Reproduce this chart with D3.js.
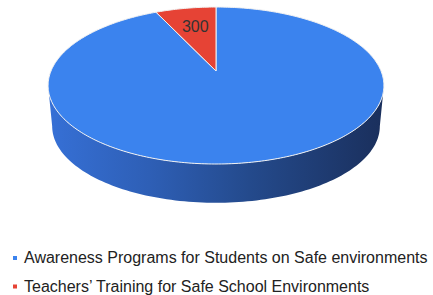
<!DOCTYPE html>
<html>
<head>
<meta charset="utf-8">
<script src="https://cdn.jsdelivr.net/npm/d3@7"></script>
<style>
  body { margin: 0; background: #fff; }
  svg { display: block; font-family: Arial, "Liberation Sans", sans-serif; }
</style>
</head>
<body>
<div id="chart"></div>
<script>
// data
const categories = ["Awareness Programs for Students on Safe environments", "Teachers\u2019 Training for Safe School Environments"];
const values = [4000, 300];
const colors = ["#3b83ee", "#e64335"];
const shownLabels = [null, "300"]; // google hides the big slice label here

const W = 433, H = 295;
const svg = d3.select("#chart").append("svg")
  .attr("width", W).attr("height", H);

// simple perspective projection of a flat disk
const cx = 216, k = 0.185;
const topFace = {cy: 71, s: 165, t: 75.8};
const botFace = {cy: 112, s: 161, t: 74};
function proj(face, a, r) {
  // a: angle clockwise from the far side, r: 0..1 of radius
  const u = r * Math.sin(a), v = r * Math.cos(a);
  const w = 1 + k * v;
  return [cx + face.s * u / w, face.cy - face.t * v / w];
}
function arcPts(face, a0, a1, n) {
  const pts = [];
  for (let i = 0; i <= n; i++) pts.push(proj(face, a0 + (a1 - a0) * i / n, 1));
  return pts;
}

const defs = svg.append("defs");
const grad = defs.append("linearGradient").attr("id", "side")
  .attr("x1", "0%").attr("x2", "100%").attr("y1", "0%").attr("y2", "0%");
[[0, "#3670d6"], [0.3, "#2e5fb6"], [0.6, "#244a8c"], [1, "#1a2f5c"]].forEach(d => {
  grad.append("stop").attr("offset", d[0]).attr("stop-color", d[1]);
});

const line = d3.line();

// side wall (near half)
const aL = Math.acos(-k), aR = 2 * Math.PI - aL;
const sideTop = arcPts(topFace, aL, aR, 120);
const sideBot = arcPts(botFace, aR, aL, 120);
svg.append("path")
  .attr("d", line(sideTop.concat(sideBot)) + "Z")
  .attr("fill", "url(#side)");

// top face slices
const pie = d3.pie().sort(null).value(d => d)(values);
const slices = svg.append("g");
pie.forEach((p, i) => {
  const n = Math.max(4, Math.ceil((p.endAngle - p.startAngle) * 60));
  const pts = [proj(topFace, 0, 0)].concat(arcPts(topFace, p.startAngle, p.endAngle, n));
  slices.append("path")
    .attr("d", line(pts) + "Z")
    .attr("fill", colors[i])
    .attr("stroke", "#f2f2f2")
    .attr("stroke-width", 1)
    .attr("stroke-linejoin", "round");
});

// slice labels
pie.forEach((p, i) => {
  if (!shownLabels[i]) return;
  const pt = proj(topFace, (p.startAngle + p.endAngle) / 2, 0.68);
  svg.append("text")
    .attr("x", pt[0] + 1).attr("y", pt[1])
    .attr("dy", "0.36em")
    .attr("text-anchor", "middle")
    .attr("font-size", 16)
    .attr("fill", "#333")
    .text(shownLabels[i]);
});

// legend
const legend = svg.append("g").attr("transform", "translate(13,0)");
categories.forEach((c, i) => {
  const y = 263 + i * 28.5;
  legend.append("rect")
    .attr("x", 0).attr("y", y - 7).attr("width", 4).attr("height", 4)
    .attr("fill", colors[i]);
  legend.append("text")
    .attr("x", 11).attr("y", y)
    .attr("font-size", 16)
    .attr("fill", "#222")
    .text(c);
});
</script>
</body>
</html>
